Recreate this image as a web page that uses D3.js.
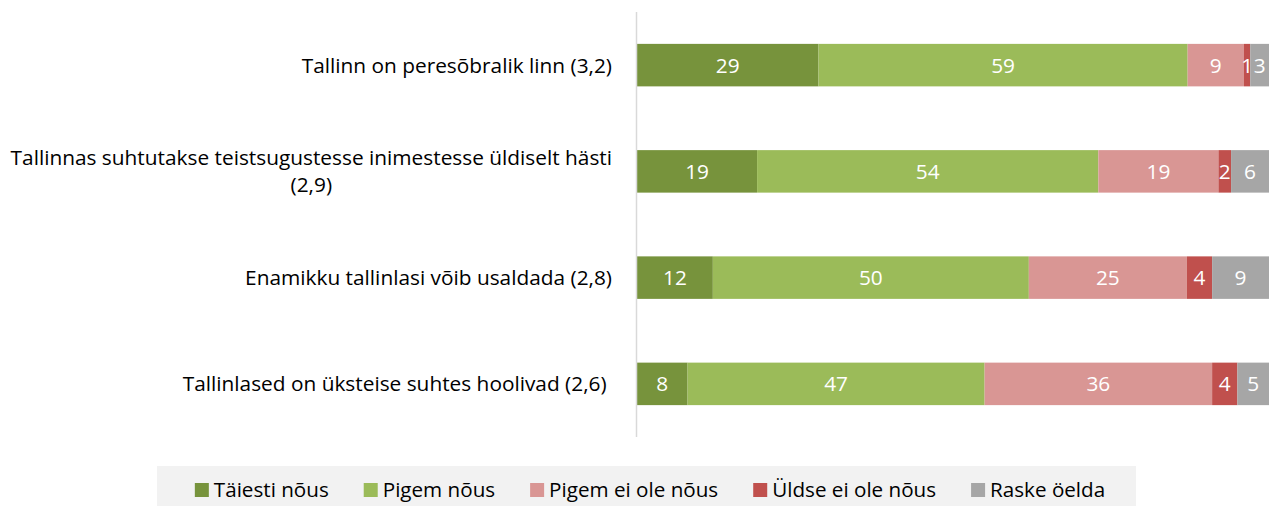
<!DOCTYPE html>
<html>
<head>
<meta charset="utf-8">
<script src="https://cdnjs.cloudflare.com/ajax/libs/d3/7.8.5/d3.min.js"></script>
<style>
  body { margin: 0; background: #fff; }
  svg { display: block; }
  text { font-family: "Open Sans", sans-serif; }
</style>
</head>
<body>
<div id="chart"></div>
<script>
var categories = [
  ["Tallinn on peresõbralik linn (3,2)"],
  ["Tallinnas suhtutakse teistsugustesse inimestesse üldiselt hästi", "(2,9)"],
  ["Enamikku tallinlasi võib usaldada (2,8)"],
  ["Tallinlased on üksteise suhtes hoolivad (2,6) "]
];
var seriesNames = ["Täiesti nõus", "Pigem nõus", "Pigem ei ole nõus", "Üldse ei ole nõus", "Raske öelda"];
var taiesti = [29, 19, 12, 8];
var pigem = [59, 54, 50, 47];
var pigemEi = [9, 19, 25, 36];
var uldseEi = [1, 2, 4, 4];
var raske = [3, 6, 9, 5];
var colors = ["#77933c", "#9bbb59", "#d99694", "#c0504d", "#a6a6a6"];

var W = 1277, H = 506;
var svg = d3.select("#chart").append("svg")
  .attr("width", W)
  .attr("height", H);

// font size so that a text has the wanted width
function fitSize(str, target) {
  var t = svg.append("text").style("font-size", "20px").style("white-space", "pre").text(str);
  var w = t.node().getComputedTextLength();
  t.remove();
  return 20 * target / w;
}
var catSize = fitSize(categories[1][0], 602);
var legSize = fitSize(seriesNames[0], 115);

var series = [taiesti, pigem, pigemEi, uldseEi, raske];
var rows = categories.map(function(c, i) {
  var r = {key: i};
  series.forEach(function(s, j) { r[j] = s[i]; });
  return r;
});
var stack = d3.stack().keys(d3.range(5)).offset(d3.stackOffsetExpand);
var stacked = stack(rows);

var x = d3.scaleLinear().domain([0, 1]).range([637, 1269]);
var y = d3.scaleBand().domain(d3.range(4)).range([12, 437])
  .paddingInner(0.6).paddingOuter(0.3);

var z = d3.scaleOrdinal().domain(d3.range(5)).range(colors);

var layers = svg.selectAll(".layer")
  .data(stacked)
  .enter().append("g")
    .attr("class", "layer")
    .attr("fill", function(d) { return z(d.key); });

layers.selectAll("rect")
  .data(function(d) { return d; })
  .enter().append("rect")
    .attr("x", function(d) { return x(d[0]); })
    .attr("y", function(d) { return y(d.data.key); })
    .attr("width", function(d) { return x(d[1]) - x(d[0]); })
    .attr("height", y.bandwidth());

layers.selectAll("text")
  .data(function(d) { return d.map(function(p) { p.k = d.key; return p; }); })
  .enter().append("text")
    .attr("x", function(d) { return (x(d[0]) + x(d[1])) / 2; })
    .attr("y", function(d) { return y(d.data.key) + y.bandwidth() / 2; })
    .attr("dy", "0.36em")
    .attr("text-anchor", "middle")
    .attr("fill", "#fff")
    .style("font-size", catSize + "px")
    .text(function(d) { return d.data[d.k]; });

// axis line
svg.append("line")
  .attr("x1", 636.5).attr("x2", 636.5)
  .attr("y1", 12).attr("y2", 437)
  .attr("stroke", "#d9d9d9")
  .attr("stroke-width", 1.5);

// category labels
var labels = svg.selectAll(".cat")
  .data(categories)
  .enter().append("text")
    .attr("class", "cat")
    .attr("fill", "#000")
    .style("font-size", catSize + "px")
    .style("white-space", "pre")
    .attr("text-anchor", "middle");

labels.each(function(lines, i) {
  var t = d3.select(this);
  var cy = y(i) + y.bandwidth() / 2;
  lines.forEach(function(l, j) {
    t.append("tspan")
      .attr("y", cy + (j - (lines.length - 1) / 2) * 27)
      .attr("dy", "0.36em")
      .text(l);
  });
  // right align the block at x=612
  var maxW = 0;
  t.selectAll("tspan").each(function() { maxW = Math.max(maxW, this.getComputedTextLength()); });
  t.selectAll("tspan").attr("x", 612 - maxW / 2);
});

// legend
var legend = svg.append("g");
legend.append("rect")
  .attr("x", 157).attr("y", 466)
  .attr("width", 979).attr("height", 40)
  .attr("fill", "#f2f2f2");

var items = legend.selectAll(".leg")
  .data(seriesNames)
  .enter().append("g")
    .attr("class", "leg");

items.append("rect")
  .attr("width", 14).attr("height", 14)
  .attr("y", 483)
  .attr("fill", function(d, i) { return z(i); });

items.append("text")
  .attr("x", 19)
  .attr("y", 490)
  .attr("dy", "0.36em")
  .style("font-size", legSize + "px")
  .attr("fill", "#000")
  .text(function(d) { return d; });

var widths = [];
items.select("text").each(function() { widths.push(19 + this.getComputedTextLength()); });
var gap = 35;
var total = d3.sum(widths) + gap * (widths.length - 1);
var pos = 650 - total / 2;
items.attr("transform", function(d, i) {
  var p = pos;
  pos += widths[i] + gap;
  return "translate(" + p + ",0)";
});
</script>
</body>
</html>
